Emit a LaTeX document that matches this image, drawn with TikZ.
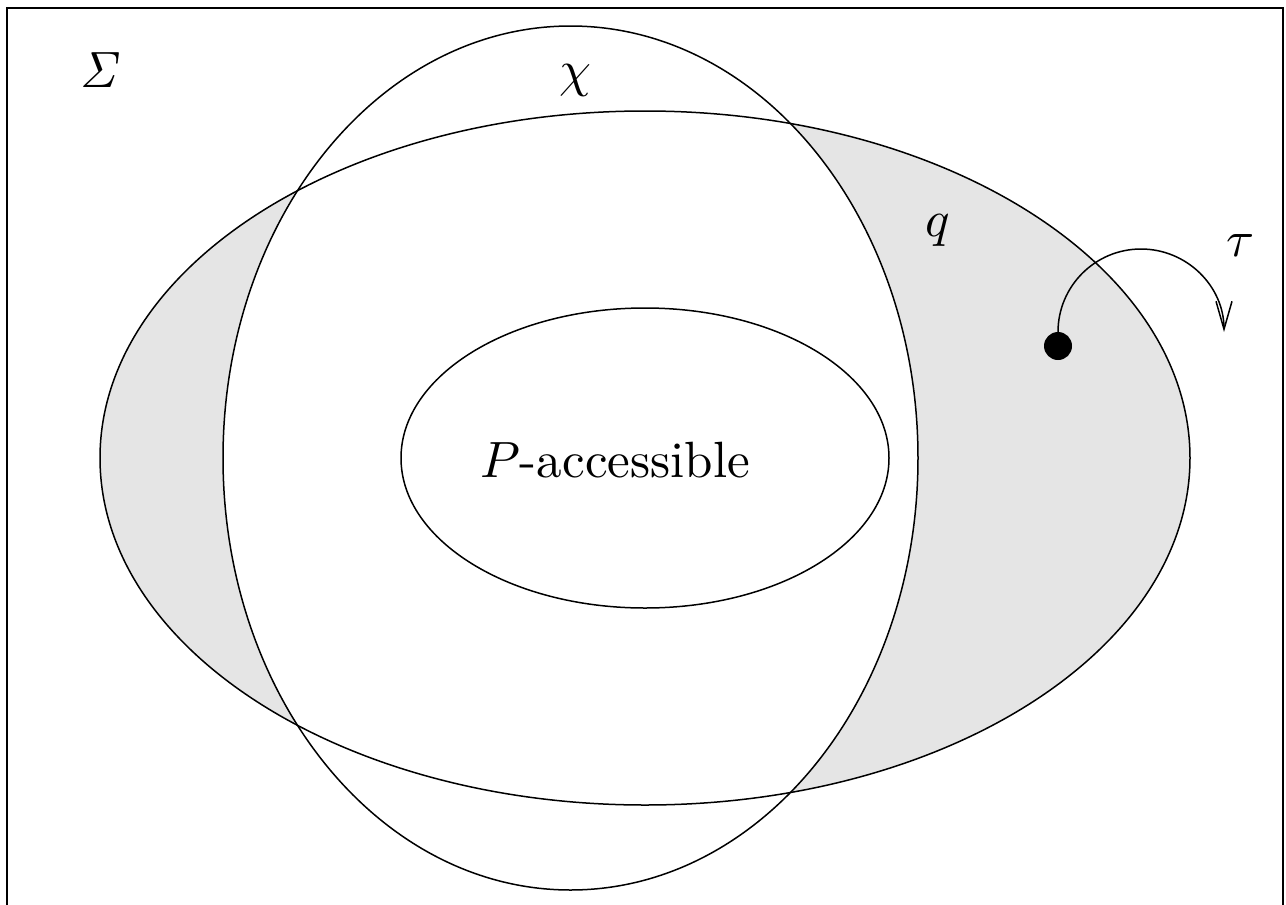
\documentclass[tikz,border=0pt]{standalone}
\usepackage{graphicx}
\usetikzlibrary{arrows.meta}
\newcommand{\bigtxt}[1]{\scalebox{2.55}{#1}}
\begin{document}
\begin{tikzpicture}[x=0.5pt,y=-0.5pt,
  outline/.style={line width=0.75pt},
  lbl/.style={inner sep=0pt},
  shade/.style={fill=gray!20}]
\useasboundingbox (0,0) rectangle (1286,905);
\draw[outline] (7,925) -- (7,8) -- (1283,8) -- (1283,925);
% shaded region: big ellipse minus chi ellipse
\fill[shade] (645,458) ellipse [x radius=545, y radius=347];
\fill[white] (570.5,458) ellipse [x radius=347.5, y radius=432];
\draw[outline] (645,458) ellipse [x radius=545, y radius=347];
\draw[outline] (570.5,458) ellipse [x radius=347.5, y radius=432];
\draw[outline] (645,458) ellipse [x radius=244, y radius=150];
\node[lbl] (sigma) at (101,70) {\bigtxt{$\mathit{\Sigma}$}};
\node[lbl] (chi) at (575,80) {\bigtxt{$\chi$}};
\node[lbl] (q) at (938,230) {\bigtxt{$q$}};
\node[lbl] (tau) at (1241,246) {\bigtxt{$\tau$}};
\node[lbl] (pacc) at (615,460) {\bigtxt{$P$-accessible}};
\node[circle, fill=black, minimum size=14pt, inner sep=0pt] (dot) at (1058,346) {};
\draw[outline, -{Straight Barb[length=14pt,width=8pt]}] (dot.center) -- ++(0,-14) arc[start angle=180, end angle=360, radius=83];
\end{tikzpicture}
\end{document}
